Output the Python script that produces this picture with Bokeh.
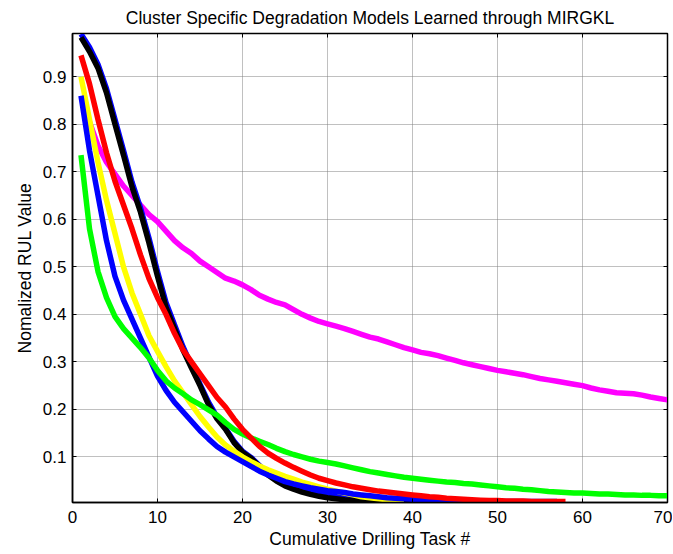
from bokeh.plotting import figure
from bokeh.models import Range1d, FixedTicker, LinearAxis
from bokeh.embed import file_html
from bokeh.resources import INLINE

# ---------------- data ----------------
x_ticks = [0, 10, 20, 30, 40, 50, 60, 70]
y_ticks = [0.1, 0.2, 0.3, 0.4, 0.5, 0.6, 0.7, 0.8, 0.9]
y_tick_labels = ["0.1", "0.2", "0.3", "0.4", "0.5", "0.6", "0.7", "0.8", "0.9"]

magenta_start = 2
magenta = [0.805, 0.755, 0.720, 0.695, 0.670, 0.650, 0.630, 0.610, 0.595,
           0.575, 0.555, 0.540, 0.528, 0.512, 0.500, 0.488, 0.476, 0.470, 0.462,
           0.452, 0.440, 0.432, 0.425, 0.420, 0.410, 0.400, 0.392, 0.385, 0.380,
           0.375, 0.370, 0.364, 0.358, 0.352, 0.348, 0.342, 0.336, 0.330, 0.325,
           0.320, 0.317, 0.313, 0.308, 0.303, 0.298, 0.294, 0.290, 0.286, 0.282,
           0.279, 0.276, 0.273, 0.269, 0.265, 0.262, 0.259, 0.256, 0.253, 0.250,
           0.245, 0.241, 0.238, 0.235, 0.234, 0.233, 0.230, 0.226, 0.223, 0.220]

blue_upper = [0.990, 0.962, 0.926, 0.875, 0.810, 0.745, 0.678, 0.624, 0.560, 0.490,
              0.425, 0.378, 0.332, 0.292, 0.253, 0.215, 0.184, 0.160, 0.133, 0.112,
              0.099, 0.082, 0.065, 0.053, 0.043, 0.036, 0.031, 0.027, 0.024, 0.021,
              0.019, 0.017, 0.015, 0.013, 0.012]

black = [0.983, 0.953, 0.918, 0.866, 0.800, 0.735, 0.668, 0.615, 0.550, 0.480,
         0.415, 0.370, 0.325, 0.287, 0.250, 0.210, 0.180, 0.158, 0.130, 0.110,
         0.097, 0.080, 0.062, 0.049, 0.039, 0.032, 0.026, 0.021, 0.017, 0.014,
         0.012, 0.010, 0.009, 0.008, 0.007, 0.006, 0.006, 0.005, 0.005, 0.005]

yellow = [0.900, 0.810, 0.720, 0.640, 0.570, 0.500, 0.445, 0.400, 0.355, 0.322,
          0.290, 0.260, 0.235, 0.210, 0.185, 0.163, 0.142, 0.125, 0.112, 0.100,
          0.090, 0.081, 0.073, 0.066, 0.059, 0.053, 0.047, 0.042, 0.037, 0.032,
          0.028, 0.024, 0.020, 0.016, 0.014, 0.012, 0.010, 0.009, 0.008]

blue_lower = [0.860, 0.745, 0.650, 0.555, 0.480, 0.430, 0.390, 0.350, 0.310, 0.270,
              0.240, 0.215, 0.195, 0.175, 0.155, 0.138, 0.122, 0.110, 0.100, 0.090,
              0.080, 0.070, 0.062, 0.055, 0.048, 0.043, 0.039, 0.035, 0.032, 0.029,
              0.027, 0.025, 0.022, 0.020, 0.018, 0.016, 0.014, 0.013, 0.012, 0.011,
              0.010, 0.009, 0.009, 0.008, 0.008, 0.007, 0.007, 0.007, 0.006, 0.006,
              0.006, 0.006, 0.006, 0.006, 0.006, 0.006, 0.006]

green = [0.735, 0.580, 0.490, 0.435, 0.395, 0.370, 0.350, 0.330, 0.308, 0.282,
         0.260, 0.245, 0.233, 0.220, 0.210, 0.199, 0.188, 0.172, 0.158, 0.148,
         0.140, 0.133, 0.126, 0.118, 0.111, 0.105, 0.100, 0.095, 0.091, 0.088,
         0.085, 0.081, 0.077, 0.073, 0.069, 0.066, 0.063, 0.060, 0.057, 0.055,
         0.053, 0.051, 0.049, 0.047, 0.046, 0.044, 0.043, 0.041, 0.039, 0.037,
         0.035, 0.034, 0.032, 0.031, 0.029, 0.027, 0.026, 0.025, 0.024, 0.024,
         0.023, 0.022, 0.022, 0.021, 0.020, 0.020, 0.019, 0.019, 0.018, 0.018]

red = [0.945, 0.885, 0.810, 0.740, 0.680, 0.630, 0.580, 0.525, 0.475, 0.435,
       0.400, 0.360, 0.325, 0.300, 0.275, 0.250, 0.225, 0.205, 0.180, 0.158,
       0.140, 0.122, 0.108, 0.097, 0.087, 0.078, 0.070, 0.062, 0.055, 0.050,
       0.045, 0.041, 0.037, 0.034, 0.031, 0.028, 0.026, 0.024, 0.022, 0.020,
       0.018, 0.016, 0.015, 0.013, 0.012, 0.011, 0.010, 0.009, 0.008, 0.008,
       0.007, 0.007, 0.007, 0.006, 0.006, 0.006, 0.006, 0.006]

series = [
    (magenta, magenta_start, "#FF00FF"),
    (blue_upper, 1, "#0000FF"),
    (black, 1, "#000000"),
    (yellow, 1, "#FFFF00"),
    (blue_lower, 1, "#0000FF"),
    (green, 1, "#00FF00"),
    (red, 1, "#FF0000"),
]

FONT = "Liberation Sans"

p = figure(width=672, height=554, output_backend="svg", toolbar_location=None,
           x_range=Range1d(0, 70), y_range=Range1d(0.004, 0.991),
           min_border_left=72, min_border_right=5, min_border_top=33,
           min_border_bottom=52,
           title="Cluster Specific Degradation Models Learned through MIRGKL")

p.background_fill_color = "white"
p.border_fill_color = "white"
p.outline_line_color = "black"
p.outline_line_width = 1.5

p.title.align = "center"
p.title.text_font = FONT
p.title.text_font_size = "17.5px"
p.title.text_font_style = "normal"
p.title.text_color = "black"
p.title.standoff = 11

for vals, start, color in series:
    xs = list(range(start, start + len(vals)))
    p.line(xs, vals, line_color=color, line_width=5.5)

# main axes
xa = p.xaxis[0]
ya = p.yaxis[0]
xa.ticker = FixedTicker(ticks=x_ticks)
ya.ticker = FixedTicker(ticks=y_ticks)
ya.major_label_overrides = {t: l for t, l in zip(y_ticks, y_tick_labels)}
xa.axis_label = "Cumulative Drilling Task #"
ya.axis_label = "Nomalized RUL Value"
for ax in (xa, ya):
    ax.major_tick_in = 4
    ax.major_tick_out = 0
    ax.minor_tick_in = 0
    ax.minor_tick_out = 0
    ax.axis_line_color = "black"
    ax.axis_line_width = 1.5
    ax.major_tick_line_color = "black"
    ax.major_label_text_font = FONT
    ax.major_label_text_font_size = "17px"
    ax.major_label_text_color = "black"
    ax.axis_label_text_font = FONT
    ax.axis_label_text_font_size = "17.5px"
    ax.axis_label_text_font_style = "normal"
    ax.axis_label_text_color = "black"
xa.major_label_standoff = 8
ya.major_label_standoff = 6
xa.axis_label_standoff = 3
ya.axis_label_standoff = 5

# mirrored tick axes (top and right), no labels
top = LinearAxis(ticker=FixedTicker(ticks=x_ticks))
right = LinearAxis(ticker=FixedTicker(ticks=y_ticks))
top.major_label_overrides = {t: "" for t in x_ticks}
right.major_label_overrides = {t: "" for t in y_ticks}
for ax in (top, right):
    ax.major_tick_in = 4
    ax.major_tick_out = 0
    ax.minor_tick_in = 0
    ax.minor_tick_out = 0
    ax.major_label_standoff = 0
    ax.major_label_text_font_size = "1px"
    ax.axis_line_color = "black"
    ax.major_tick_line_color = "black"
p.add_layout(top, "above")
p.add_layout(right, "right")

p.xgrid.ticker = FixedTicker(ticks=x_ticks)
p.ygrid.ticker = FixedTicker(ticks=y_ticks)
p.grid.grid_line_color = "#808080"
p.grid.grid_line_dash = "1 1"
p.grid.grid_line_width = 1

open("out.html", "w").write(file_html(p, INLINE))
